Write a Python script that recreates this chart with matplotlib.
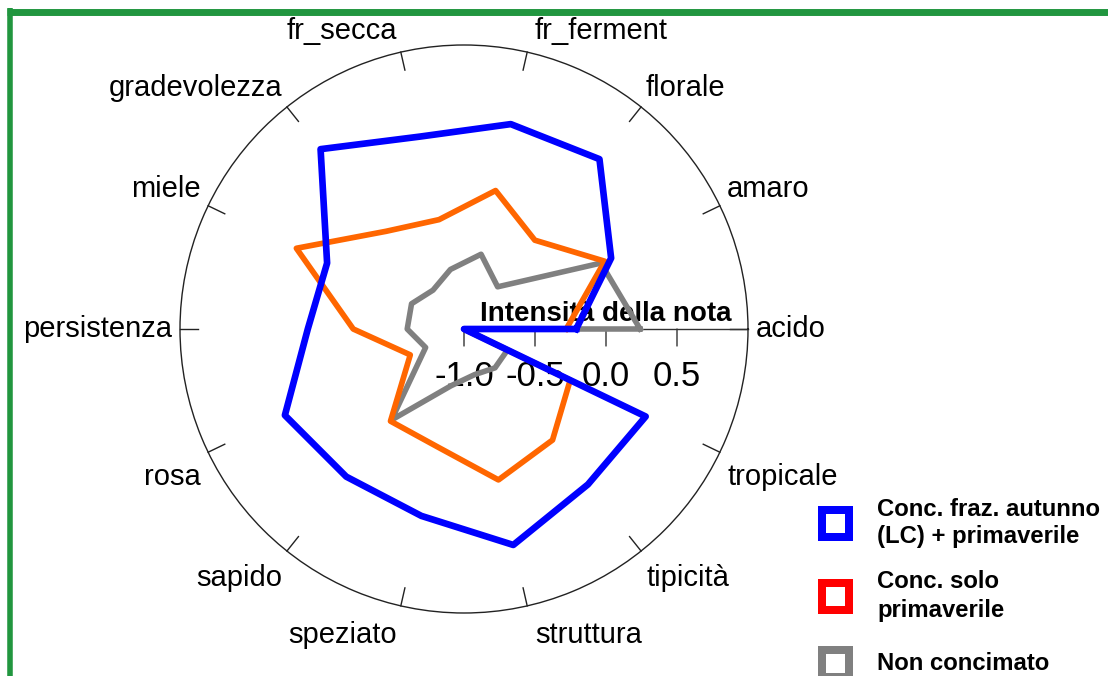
import numpy as np
import matplotlib
matplotlib.use('Agg')
import matplotlib.pyplot as plt
from matplotlib.patches import Rectangle
from matplotlib.lines import Line2D

# ---------------- data ----------------
categories = ['acido', 'amaro', 'florale', 'fr_ferment', 'fr_secca', 'gradevolezza',
              'miele', 'persistenza', 'rosa', 'sapido', 'speziato', 'struttura',
              'tipicità', 'tropicale']
blue_vals = [-0.21, 0.15, 0.53, 0.48, 0.39, 0.62, 0.07, 0.10, 0.40, 0.33, 0.35, 0.56, 0.40, 0.42]
orange_vals = [-0.28, 0.10, -0.20, 0.00, -0.21, -0.12, 0.31, -0.22, -0.58, -0.17, -0.15, 0.09, 0.00, -0.17]
gray_vals = [0.24, 0.07, -0.62, -0.46, -0.57, -0.65, -0.59, -0.60, -0.70, -0.18, -0.59, -0.67, -0.65, -0.66]
series_labels = ['Conc. fraz. autunno\n(LC) + primaverile', 'Conc. solo\nprimaverile', 'Non concimato']
r_ticks = [-1.0, -0.5, 0.0, 0.5]
axis_title = 'Intensità della nota'
r_min, r_max = -1.0, 1.0

# ---------------- styles ----------------
line_colors = ['#0000FF', '#FF6600', '#808080']
legend_colors = ['#0000FF', '#FF0000', '#808080']
line_widths = [4.8, 4.1, 4.0]
line_z = [5, 4, 3]
plt.rcParams['font.family'] = ['Liberation Sans', 'DejaVu Sans']

W, H = 1108, 676
fig = plt.figure(figsize=(W / 100, H / 100), dpi=100)
fig.patch.set_facecolor('white')

cx, cy, R = 464, 329, 284
ax = fig.add_axes([(cx - R) / W, (H - cy - R) / H, 2 * R / W, 2 * R / H], projection='polar')
ax.set_ylim(r_min, r_max)
ax.grid(False)
ax.set_xticks([])
ax.set_yticks([])
ax.spines['polar'].set_linewidth(1.0)
ax.spines['polar'].set_color('#222222')

n = len(categories)
theta = np.deg2rad(np.arange(n) * 360.0 / n)

# category ticks on the circle and labels
for t, lab in zip(theta, categories):
    ax.plot([t, t], [r_max - 0.13, r_max], color='#222222', lw=1.0, clip_on=False, zorder=2)
    c, s = np.cos(t), np.sin(t)
    ha = 'left' if c > 0.05 else ('right' if c < -0.05 else 'center')
    dy = 13 if s > 0.05 else (-21 if s < -0.05 else 0)
    dx = 0
    if abs(c) < 0.3:
        dx = 6 if c > 0 else -2
    ax.annotate(lab, xy=(t, 1.056), xytext=(dx, dy), textcoords='offset pixels',
                ha=ha, va='center', fontsize=21, annotation_clip=False, zorder=1)

# radial axis
ax.plot([0, 0], [r_min, r_max], color='#333333', lw=1.0, zorder=2)
for v in r_ticks:
    ax.annotate('', xy=(0, v), xytext=(0, -17), textcoords='offset pixels',
                arrowprops=dict(arrowstyle='-', color='#333333', lw=1.0, shrinkA=0, shrinkB=0),
                annotation_clip=False)
    ax.annotate(f'{v:.1f}', xy=(0, v), xytext=(0, -48), textcoords='offset pixels',
                ha='center', va='center', fontsize=25, zorder=1, annotation_clip=False)
ax.annotate(axis_title, xy=(0, (r_min + r_max) / 2), xytext=(0, 8), textcoords='offset pixels',
            ha='center', va='baseline', fontsize=20, fontweight='bold', zorder=1)

# series (path closes through the centre, as in the original)
for vals, col, lw, z in zip([blue_vals, orange_vals, gray_vals], line_colors, line_widths, line_z):
    th = np.r_[theta, 0.0, 0.0]
    rr = np.r_[vals, r_min, vals[0]]
    ax.plot(th, rr, color=col, lw=lw, zorder=z, solid_joinstyle='round', clip_on=False)

# legend (manual)
entry_centers = [523, 596, 663]
line_gap = 28
for lab, col, yc in zip(series_labels, legend_colors, entry_centers):
    side = 27
    fig.add_artist(Rectangle(((835.5 - side / 2) / W, 1 - (yc + side / 2) / H), side / W, side / H,
                             transform=fig.transFigure, fill=True, fc='white', ec=col, lw=5.76))
    lines = lab.split('\n')
    y0 = yc - (len(lines) - 1) * line_gap / 2
    for k, ln in enumerate(lines):
        fig.text(877 / W, 1 - (y0 + k * line_gap) / H, ln, ha='left', va='center',
                 fontsize=17.2, fontweight='bold')

# green frame (top and left edges visible)
green = '#21963F'
fig.add_artist(Line2D([7 / W, 1.0], [1 - 11.5 / H, 1 - 11.5 / H], transform=fig.transFigure,
                      color=green, lw=5.0, solid_capstyle='butt'))
fig.add_artist(Line2D([9.5 / W, 9.5 / W], [0.0, 1 - 8 / H], transform=fig.transFigure,
                      color=green, lw=4.0, solid_capstyle='butt'))

fig.savefig('out.png', dpi=100)
